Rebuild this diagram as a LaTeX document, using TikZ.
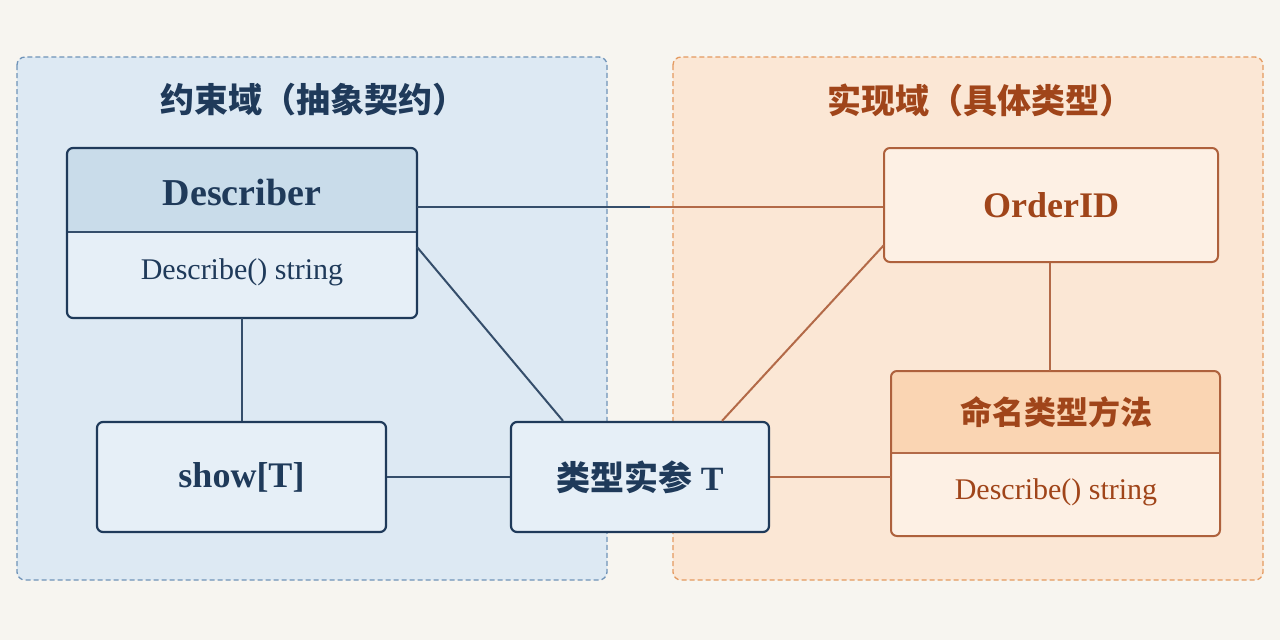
\documentclass[tikz,border=0pt]{standalone}
\usepackage{fontspec}
\setmainfont{Liberation Serif}
\newfontfamily\cjk{Noto Sans CJK SC}
\definecolor{bg}{HTML}{F7F5F0}
\definecolor{lfill}{HTML}{DDE9F3}
\definecolor{lbord}{HTML}{6F93B8}
\definecolor{rfill}{HTML}{FBE7D5}
\definecolor{rbord}{HTML}{E49A60}
\definecolor{navy}{HTML}{1F3A5A}
\definecolor{brown}{HTML}{A0451A}
\definecolor{lhead}{HTML}{C9DCEA}
\definecolor{rhead}{HTML}{FAD5B3}
\definecolor{lbox}{HTML}{E6EFF7}
\definecolor{rbox}{HTML}{FDF0E4}
\tikzset{
  dom/.style={dash pattern=on 5pt off 3pt, rounded corners=8pt, line width=1.3pt},
  lb/.style={draw=navy, fill=lbox, rounded corners=6pt, line width=2.2pt, text=navy},
  rb/.style={draw=brown!85, fill=rbox, rounded corners=6pt, line width=2pt, text=brown},
  ll/.style={draw=navy!90, line width=2pt},
  rl/.style={draw=brown!80, line width=2pt},
  mid/.style={font=\fontsize{30}{34}\selectfont},
}
\begin{document}
\begin{tikzpicture}[x=1pt,y=-1pt]
\fill[bg] (0,0) rectangle (1280,640);
\useasboundingbox (0,0) rectangle (1280,640);
\draw[dom, draw=lbord, fill=lfill] (17,57) rectangle (607,580);
\draw[dom, draw=rbord, fill=rfill] (673,57) rectangle (1263,580);
\node[text=navy, font=\cjk\bfseries\fontsize{34}{38}\selectfont] (lt) at (313,100) {约束域（抽象契约）};
\node[text=brown, font=\cjk\bfseries\fontsize{34}{38}\selectfont] (rt) at (980,100) {实现域（具体类型）};
% Describer
\begin{scope}
\clip[rounded corners=6pt] (67,148) rectangle (417,318);
\fill[lbox] (67,148) rectangle (417,318);
\fill[lhead] (67,148) rectangle (417,232);
\end{scope}
\draw[ll] (67,232) -- (417,232);
\draw[navy, line width=2.2pt, rounded corners=6pt] (67,148) rectangle (417,318);
\node[text=navy, font=\bfseries\fontsize{38}{42}\selectfont] at (242,192) {Describer};
\node[text=navy, mid] at (242,272) {Describe() string};
\coordinate (dR) at (417,207); \coordinate (dD) at (417,247); \coordinate (dB) at (242,318);
% show
\node[lb, minimum width=289pt, minimum height=110pt, font=\bfseries\fontsize{36}{40}\selectfont] (show) at (241.5,477) {show[T]};
% T
\node[lb, minimum width=258pt, minimum height=110pt, font=\bfseries\fontsize{34}{40}\selectfont] (T) at (640,477) {{\cjk\bfseries 类型实参} T};
% OrderID
\node[rb, minimum width=334pt, minimum height=114pt, font=\bfseries\fontsize{36}{40}\selectfont] (oid) at (1051,205) {OrderID};
% named method
\begin{scope}
\clip[rounded corners=6pt] (891,371) rectangle (1220,536);
\fill[rbox] (891,371) rectangle (1220,536);
\fill[rhead] (891,371) rectangle (1220,453);
\end{scope}
\draw[rl] (891,453) -- (1220,453);
\draw[brown!85, line width=2pt, rounded corners=6pt] (891,371) rectangle (1220,536);
\node[text=brown, font=\cjk\bfseries\fontsize{32}{36}\selectfont] at (1056,412) {命名类型方法};
\node[text=brown, mid] at (1056,492) {Describe() string};
\coordinate (nT) at (1050,371); \coordinate (nL) at (891,477);
% connectors
\coordinate (m) at (650,207);
\draw[ll] (dR) -- (m);
\draw[rl] (m) -- (oid.west |- m);
\draw[ll] (dD) -- (T.north -| 563,0);
\draw[ll] (dB) -- (show.north -| dB);
\draw[ll] (show.east) -- (T.west);
\draw[rl] (T.north -| 722,0) -- (884,245);
\draw[rl] (T.east) -- (nL);
\draw[rl] (oid.south -| nT) -- (nT);
\end{tikzpicture}
\end{document}
